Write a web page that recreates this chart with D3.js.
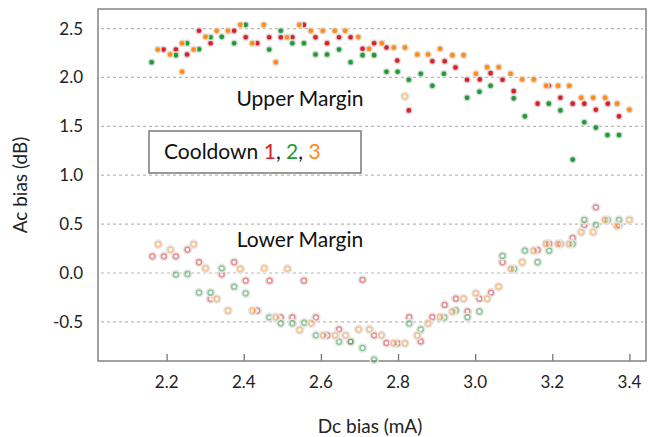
<!DOCTYPE html>
<meta charset="utf-8">
<style>
body { margin: 0; background: #fff; font-family: Lato, "Open Sans", sans-serif; }
.grid line { stroke: #b8b8b8; stroke-dasharray: 3,3; stroke-width: 1.2; }
.tick-label { font-size: 17px; fill: #222; }
.axis-title { font-size: 19px; fill: #222; }
.note { font-size: 21px; fill: #111; }
</style>
<body>
<script src="https://cdn.jsdelivr.net/npm/d3@7"></script>
<script>
// tick labels
var xTicks = [2.2, 2.4, 2.6, 2.8, 3.0, 3.2, 3.4];
var yTicks = [2.5, 2.0, 1.5, 1.0, 0.5, 0.0, -0.5];

// upper margin, filled dots [dc bias, ac bias]
var upper1 = [[2.192,2.286],[2.224,2.286],[2.253,2.235],[2.284,2.477],[2.314,2.35],[2.375,2.477],
  [2.405,2.411],[2.435,2.35],[2.466,2.411],[2.496,2.411],[2.526,2.411],[2.556,2.538],[2.586,2.411],
  [2.616,2.35],[2.647,2.411],[2.677,2.411],[2.708,2.293],[2.738,2.35],[2.770,2.306],[2.798,2.173],
  [2.828,1.663],[2.889,2.166],[2.921,2.166],[2.949,2.102],[2.979,1.977],[3.012,1.980],[3.040,2.044],
  [3.071,1.977],[3.100,1.860],[3.162,1.732],[3.191,1.915],[3.221,1.793],[3.253,1.732],[3.283,1.732],
  [3.313,1.670],[3.344,1.732],[3.373,1.602]];
var upper2 = [[2.161,2.156],[2.224,2.228],[2.253,2.35],[2.284,2.289],[2.314,2.411],[2.343,2.415],
  [2.375,2.35],[2.405,2.538],[2.466,2.286],[2.496,2.477],[2.526,2.35],[2.556,2.35],[2.586,2.235],
  [2.616,2.235],[2.647,2.286],[2.677,2.156],[2.708,2.228],[2.738,2.228],[2.770,2.058],[2.799,2.058],
  [2.828,1.977],[2.859,2.038],[2.889,1.915],[2.919,2.038],[2.979,1.793],[3.011,1.854],[3.040,1.915],
  [3.100,1.786],[3.129,1.602],[3.191,1.732],[3.221,1.663],[3.253,1.160],[3.283,1.541],[3.313,1.487],
  [3.343,1.411],[3.373,1.411]];
var upper3 = [[2.177,2.286],[2.209,2.235],[2.240,2.058],[2.240,2.35],[2.270,2.286],[2.301,2.415],
  [2.330,2.477],[2.359,2.477],[2.391,2.538],[2.422,2.35],[2.452,2.538],[2.483,2.156],[2.512,2.411],
  [2.544,2.538],[2.574,2.477],[2.605,2.477],[2.636,2.477],[2.663,2.477],[2.697,2.413],[2.725,2.293],
  [2.758,2.35],[2.789,2.306],[2.818,2.306],[2.850,2.235],[2.878,2.235],[2.909,2.293],[2.941,2.228],
  [2.970,2.228],[3.002,2.038],[3.031,2.105],[3.061,2.105],[3.092,2.038],[3.122,1.980],[3.152,1.980],
  [3.184,1.915],[3.215,1.915],[3.244,1.915],[3.275,1.793],[3.306,1.793],[3.337,1.793],[3.368,1.732],
  [3.400,1.670]];

// lower margin, open rings
var lower1 = [[2.163,0.171],[2.193,0.171],[2.224,0.171],[2.254,0.238],[2.284,0.110],[2.314,-0.266],
  [2.343,-0.013],[2.375,0.110],[2.405,-0.079],[2.435,-0.386],[2.467,-0.079],[2.496,-0.455],
  [2.526,-0.455],[2.556,-0.079],[2.587,-0.455],[2.617,-0.637],[2.647,-0.576],[2.677,-0.700],
  [2.708,-0.071],[2.738,-0.637],[2.770,-0.716],[2.799,-0.719],[2.829,-0.452],[2.859,-0.700],
  [2.889,-0.452],[2.921,-0.327],[2.950,-0.263],[2.980,-0.394],[3.011,-0.263],[3.041,-0.201],
  [3.071,0.110],[3.162,0.235],[3.192,0.297],[3.221,0.297],[3.253,0.358],[3.283,0.491],
  [3.313,0.672],[3.373,0.491]];
var lower2 = [[2.224,-0.016],[2.254,-0.010],[2.284,-0.201],[2.314,-0.201],[2.343,0.048],[2.375,-0.140],
  [2.405,-0.208],[2.466,-0.453],[2.496,-0.514],[2.526,-0.514],[2.557,-0.509],[2.587,-0.637],
  [2.647,-0.703],[2.677,-0.703],[2.708,-0.767],[2.738,-0.885],[2.829,-0.516],[2.859,-0.578],
  [2.920,-0.455],[2.950,-0.383],[2.980,-0.452],[3.011,-0.394],[3.071,0.174],[3.101,0.041],
  [3.129,0.228],[3.162,0.110],[3.192,0.228],[3.253,0.297],[3.283,0.542],[3.313,0.491],
  [3.344,0.542],[3.373,0.542]];
var lower3 = [[2.178,0.294],[2.210,0.238],[2.270,0.294],[2.301,0.048],[2.330,-0.266],[2.359,-0.386],
  [2.391,0.041],[2.423,-0.386],[2.453,0.048],[2.483,-0.453],[2.513,0.043],[2.545,-0.583],
  [2.575,-0.514],[2.606,-0.637],[2.637,-0.637],[2.664,-0.637],[2.698,-0.576],[2.726,-0.576],
  [2.757,-0.637],[2.789,-0.718],[2.818,-0.719],[2.818,1.807],[2.850,-0.639],[2.878,-0.516],
  [2.909,-0.452],[2.941,-0.394],[2.970,-0.263],[3.002,-0.208],[3.031,-0.263],[3.061,-0.140],
  [3.093,0.041],[3.122,0.110],[3.152,0.228],[3.184,0.297],[3.215,0.297],[3.244,0.297],
  [3.275,0.419],[3.306,0.419],[3.337,0.542],[3.368,0.481],[3.400,0.542]];

var colors = ["#d7202b", "#1f9a35", "#ff8a16"];

// plot frame inside the 659x437 page
var margin = {top: 9, right: 13, bottom: 76, left: 98},
    width = 659 - margin.left - margin.right,
    height = 437 - margin.top - margin.bottom;

var x = d3.scaleLinear().domain([2.022, 3.443]).range([0, width]);
var y = d3.scaleLinear().domain([-0.9, 2.7]).range([height, 0]);

var svg = d3.select("body").append("svg")
    .attr("width", 659)
    .attr("height", 437)
  .append("g")
    .attr("transform", "translate(" + margin.left + "," + margin.top + ")");

// dashed grid lines
svg.append("g")
    .attr("class", "grid")
  .selectAll("line")
    .data(yTicks)
  .enter().append("line")
    .attr("x1", 3)
    .attr("x2", width - 3)
    .attr("y1", function(d) { return y(d); })
    .attr("y2", function(d) { return y(d); });

// y labels (no tick marks)
svg.append("g")
  .selectAll("text")
    .data(yTicks)
  .enter().append("text")
    .attr("class", "tick-label")
    .attr("x", -15)
    .attr("y", function(d) { return y(d); })
    .attr("dy", "0.35em")
    .style("text-anchor", "end")
    .text(function(d) { return d3.format(".1f")(d).replace("−", "-"); });

// x ticks point inward from the bottom edge
var xAxis = svg.append("g")
    .attr("transform", "translate(0," + height + ")")
    .call(d3.axisTop(x).tickValues(xTicks).tickSize(7).tickFormat(""));
xAxis.select(".domain").remove();
xAxis.selectAll(".tick line").attr("stroke", "#777").attr("stroke-width", 1.3);

svg.append("g")
  .selectAll("text")
    .data(xTicks)
  .enter().append("text")
    .attr("class", "tick-label")
    .attr("x", function(d) { return x(d); })
    .attr("y", height + 27)
    .style("text-anchor", "middle")
    .text(d3.format(".1f"));

// frame
svg.append("rect")
    .attr("width", width)
    .attr("height", height)
    .attr("fill", "none")
    .attr("stroke", "#8a8a8a")
    .attr("stroke-width", 1.6);

// lower margin rings
[lower1, lower2, lower3].forEach(function(s, i) {
  svg.append("g").selectAll("circle")
      .data(s)
    .enter().append("circle")
      .attr("cx", function(d) { return x(d[0]); })
      .attr("cy", function(d) { return y(d[1]); })
      .attr("r", 3.8)
      .attr("fill", "none")
      .attr("stroke", "#e6e6e6")
      .attr("stroke-width", 2);
  svg.append("g").selectAll("circle")
      .data(s)
    .enter().append("circle")
      .attr("cx", function(d) { return x(d[0]); })
      .attr("cy", function(d) { return y(d[1]); })
      .attr("r", 2.4)
      .attr("fill", "none")
      .attr("stroke", colors[i])
      .attr("stroke-opacity", 0.5)
      .attr("stroke-width", 1.5);
});

// upper margin dots
[upper1, upper2, upper3].forEach(function(s, i) {
  svg.append("g").selectAll("circle")
      .data(s)
    .enter().append("circle")
      .attr("cx", function(d) { return x(d[0]); })
      .attr("cy", function(d) { return y(d[1]); })
      .attr("r", 3.1)
      .attr("fill", colors[i])
      .attr("stroke", "#e4e4e4")
      .attr("stroke-opacity", 0.8)
      .attr("stroke-width", 1.6);
});

// annotations
svg.append("text")
    .attr("class", "note")
    .attr("x", 202)
    .attr("y", 97)
    .style("text-anchor", "middle")
    .text("Upper Margin");

svg.append("text")
    .attr("class", "note")
    .attr("x", 202)
    .attr("y", 238)
    .style("text-anchor", "middle")
    .text("Lower Margin");

// legend box
svg.append("rect")
    .attr("x", 51)
    .attr("y", 122)
    .attr("width", 212)
    .attr("height", 42)
    .attr("fill", "#fff")
    .attr("stroke", "#7a7a7a")
    .attr("stroke-width", 1.5);

var leg = svg.append("text")
    .attr("class", "note")
    .attr("x", 66)
    .attr("y", 150);
leg.append("tspan").text("Cooldown ");
leg.append("tspan").attr("fill", colors[0]).text("1");
leg.append("tspan").text(", ");
leg.append("tspan").attr("fill", colors[1]).text("2");
leg.append("tspan").text(", ");
leg.append("tspan").attr("fill", colors[2]).text("3");

// axis titles
svg.append("text")
    .attr("class", "axis-title")
    .attr("transform", "rotate(-90)")
    .attr("x", -height / 2)
    .attr("y", -71)
    .style("text-anchor", "middle")
    .text("Ac bias (dB)");

svg.append("text")
    .attr("class", "axis-title")
    .attr("x", 272)
    .attr("y", height + 72)
    .style("text-anchor", "middle")
    .text("Dc bias (mA)");
</script>
</body>
